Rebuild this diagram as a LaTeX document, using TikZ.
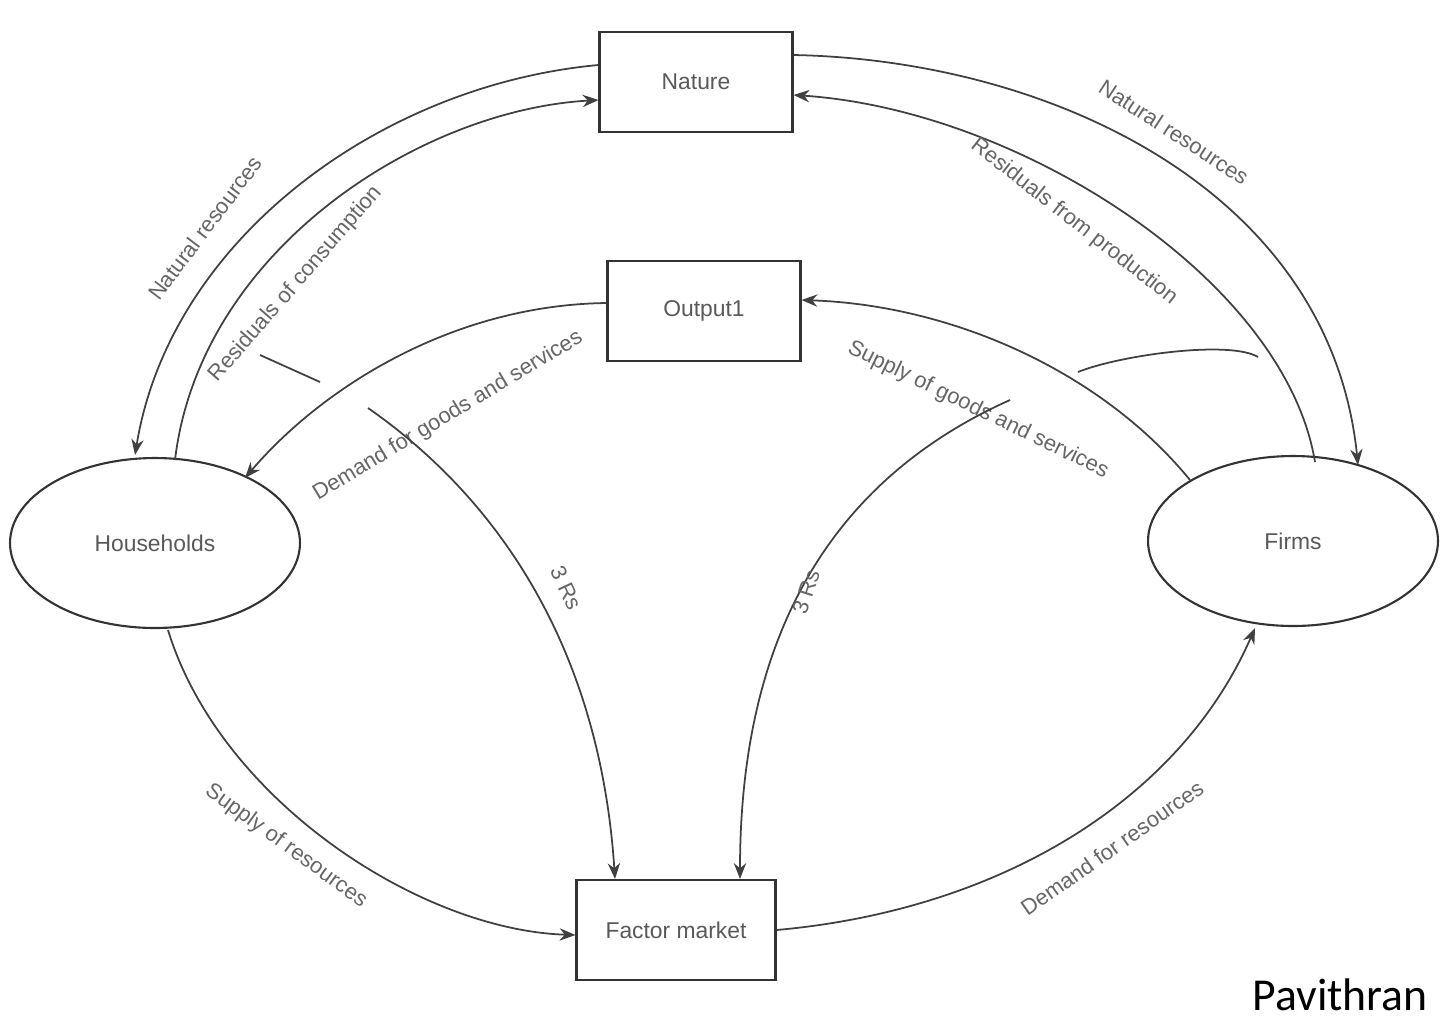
\documentclass[tikz,border=0pt]{standalone}
\usepackage{fontspec}
\setmainfont{Liberation Sans}
\newfontfamily\sig{Carlito}
\usetikzlibrary{arrows.meta,shapes.geometric}
\begin{document}
\begin{tikzpicture}[x=0.02cm,y=-0.02cm,
  box/.style={draw=black!80,line width=1.2pt,minimum width=3.86cm,minimum height=2cm,inner sep=0pt,font=\fontsize{13}{15}\selectfont,text=black!65},
  ell/.style={draw=black!80,line width=1.2pt,ellipse,minimum width=5.8cm,minimum height=3.4cm,inner sep=0pt,font=\fontsize{13}{15}\selectfont,text=black!65},
  flow/.style={draw=black!75,line width=1pt,-{Stealth[length=9pt,width=7pt]}},
  plain/.style={draw=black!75,line width=1pt},
  lab/.style={font=\fontsize{12.5}{14}\selectfont,text=black!60,inner sep=1pt}]
\useasboundingbox (0,0) rectangle (1440,1019);
\fill[white] (0,0) rectangle (1440,1019);
\node[box] (nat) at (696,82) {Nature};
\node[box] (out) at (704,311) {Output1};
\node[box,minimum width=3.98cm] (fac) at (676,930) {Factor market};
\node[ell] (hh) at (155,543) {Households};
\node[ell] (fi) at (1293,541) {Firms};
\coordinate (r1a) at (260,355); \coordinate (r1b) at (320,382); \coordinate (r1c) at (368,408);
\coordinate (r2a) at (1258,357); \coordinate (r2b) at (1078,372); \coordinate (r2c) at (1010,400);
% nature flows
\draw[flow] (nat.west|-0,65) .. controls (380,85) and (170,240) .. (135,455);
\draw[flow] (175,460) .. controls (200,250) and (420,110) .. (nat.west|-0,100);
\draw[flow] (nat.east|-0,55) .. controls (1050,60) and (1330,190) .. (1358,465);
\draw[flow] (1315,462) .. controls (1285,280) and (1020,110) .. (nat.east|-0,95);
\node[lab,rotate=53] at (205,228) {Natural resources};
\node[lab,rotate=49] at (296,284) {Residuals of consumption};
\node[lab,rotate=-33] at (1174,132) {Natural resources};
\node[lab,rotate=-38] at (1074,222) {Residuals from production};
% output flows
\draw[flow] (out.west|-0,303) .. controls (450,305) and (320,390) .. (245,478);
\draw[flow] (1190,480) .. controls (1100,370) and (950,305) .. (out.east|-0,300);
\node[lab,rotate=31] at (448,416) {Demand for goods and services};
\node[lab,rotate=-26] at (978,410) {Supply of goods and services};
% factor flows
\draw[flow] (168,630) .. controls (220,800) and (420,930) .. (fac.west|-0,935);
\draw[flow] (fac.east|-0,930) .. controls (1000,910) and (1180,800) .. (1255,628);
\node[lab,rotate=-36] at (286,846) {Supply of resources};
\node[lab,rotate=35] at (1112,848) {Demand for resources};
% 3 Rs
\draw[plain] (r1a) -- (r1b);
\draw[flow] (r1c) .. controls (500,500) and (600,650) .. (fac.north-|615,0);
\draw[plain] (r2a) .. controls (1230,340) and (1120,355) .. (r2b);
\draw[flow] (r2c) .. controls (820,485) and (740,650) .. (fac.north-|740,0);
\node[lab,rotate=-65] at (566,588) {3 Rs};
\node[lab,rotate=72] at (806,592) {3 Rs};
\node[font=\fontsize{26}{30}\selectfont\sig,anchor=base east,inner sep=0pt] (sg) at (1428,1010) {Pavithran};
\end{tikzpicture}
\end{document}
